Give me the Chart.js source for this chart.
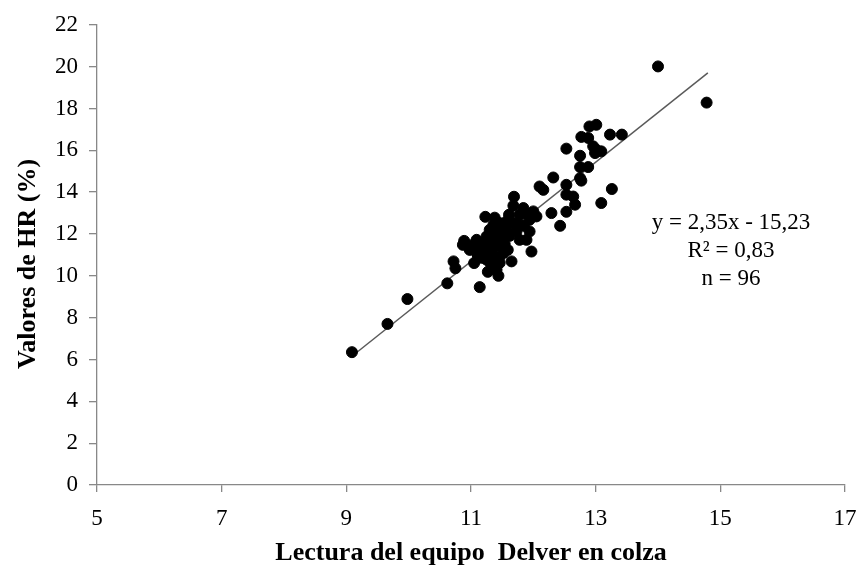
<!DOCTYPE html>
<html>
<head>
<meta charset="utf-8">
<script src="https://cdn.jsdelivr.net/npm/chart.js@4/dist/chart.umd.min.js"></script>
<style>
html,body{margin:0;padding:0;background:#fff;}
#wrap{width:857px;height:569px;position:relative;}
</style>
</head>
<body>
<div id="wrap"><canvas id="c" width="857" height="569"></canvas></div>
<script>
// Observed data (Delver reading vs HR %)
const delverX = [9.09,9.66,9.98,10.62,10.72,10.75,10.87,10.89,11.05,11.14,11.09,11.08,11.14,11.23,11.36,11.46,11.57,11.25,11.36,11.28,11.41,11.52,11.65,11.25,11.17,11.33,11.41,11.44,11.68,11.69,11.73,11.86,11.94,11.94,11.89,11.97,12.05,11.84,12.10,12.16,12.29,12.43,12.53,12.53,12.64,12.67,12.53,12.75,12.77,12.32,12.75,12.88,12.53,12.75,12.96,13.01,13.09,12.77,12.88,12.90,13.01,13.23,13.42,13.26,13.09,14.00,14.78,11.78,11.59,12.00,11.78,11.57,11.68,12.99,11.38,11.30,11.42,11.50,11.21,11.30,11.43,11.54,11.19,11.35,11.45,11.27,11.11,10.98,11.62,11.75,11.61,11.85,11.46,11.30,11.03,11.53];
const hrY = [6.35,7.70,8.89,9.64,10.69,10.36,11.48,11.67,10.61,9.46,11.72,11.16,11.40,12.82,12.44,12.52,12.20,11.88,11.72,11.24,11.40,11.09,10.69,10.77,10.86,10.44,10.29,10.00,13.35,13.78,12.12,13.01,12.68,12.12,11.72,11.16,12.84,13.24,14.27,14.11,13.00,12.39,13.06,13.88,13.79,13.40,14.35,14.67,14.55,14.70,15.20,15.20,16.08,15.74,16.19,16.03,15.95,16.64,16.59,17.14,17.22,16.75,16.75,14.15,13.48,20.01,18.28,11.72,11.24,13.08,12.92,12.60,12.52,15.87,12.78,12.20,12.06,11.82,11.58,11.53,11.67,11.53,11.15,11.00,10.86,10.19,10.96,11.24,11.91,12.49,12.92,12.39,10.62,10.67,11.48,12.30];
// Trend line endpoints
const trendX = [9.15, 14.8];
const trendY = [6.30, 19.70];
const xTicks = [5,7,9,11,13,15,17];
const yTicks = [0,2,4,6,8,10,12,14,16,18,20,22];
const eqLines = ["y = 2,35x - 15,23", "R² = 0,83", "n = 96"];
const xTitle = "Lectura del equipo  Delver en colza";
const yTitle = "Valores de HR (%)";

const pts = delverX.map((x,i)=>({x:x,y:hrY[i]}));
const trend = trendX.map((x,i)=>({x:x,y:trendY[i]}));

const SERIF = '"Liberation Serif", "Times New Roman", serif';
const textPlugin = {
  id:'texts',
  afterDraw(chart){
    const ctx = chart.ctx;
    ctx.save();
    ctx.fillStyle = '#000';
    ctx.textAlign = 'center';
    ctx.textBaseline = 'middle';
    ctx.font = '23px ' + SERIF;
    const cx = 731, ys = [223, 251, 279];
    eqLines.forEach((t,i)=>ctx.fillText(t, cx, ys[i]));
    ctx.font = 'bold 26px ' + SERIF;
    ctx.fillText(xTitle, 471, 553);
    ctx.translate(28, 264);
    ctx.rotate(-Math.PI/2);
    ctx.fillText(yTitle, 0, 0);
    ctx.restore();
  }
};

const tickFont = {family:SERIF, size:23};
new Chart(document.getElementById('c'), {
  type:'scatter',
  data:{datasets:[
    {label:'trend', type:'line', data:trend, borderColor:'#5a5a5a', borderWidth:1.5, pointRadius:0, fill:false, order:2},
    {label:'data', data:pts, backgroundColor:'#000', borderColor:'#000', pointRadius:5.5, pointHoverRadius:5.5, order:1}
  ]},
  options:{
    responsive:false, animation:false,
    layout:{padding:{left:0, right:0, top:24, bottom:0}},
    plugins:{legend:{display:false}, tooltip:{enabled:false}},
    scales:{
      x:{type:'linear', min:5, max:17,
        afterBuildTicks(s){ s.ticks = xTicks.map(v=>({value:v})); },
        afterFit(s){ s.height = 569-485; s.paddingRight = 12; s.paddingLeft = 0; },
        border:{color:'#888', width:1.3},
        grid:{drawOnChartArea:false, color:'#888', tickLength:7, lineWidth:1.3},
        ticks:{color:'#000', font:tickFont, padding:13, maxRotation:0, autoSkip:false}
      },
      y:{type:'linear', min:0, max:22,
        afterBuildTicks(s){ s.ticks = yTicks.map(v=>({value:v})); },
        afterFit(s){ s.width = 97; },
        border:{color:'#888', width:1.3},
        grid:{drawOnChartArea:false, color:'#888', tickLength:8, lineWidth:1.3},
        ticks:{color:'#000', font:tickFont, padding:11, autoSkip:false}
      }
    }
  },
  plugins:[textPlugin]
});
</script>
</body>
</html>
